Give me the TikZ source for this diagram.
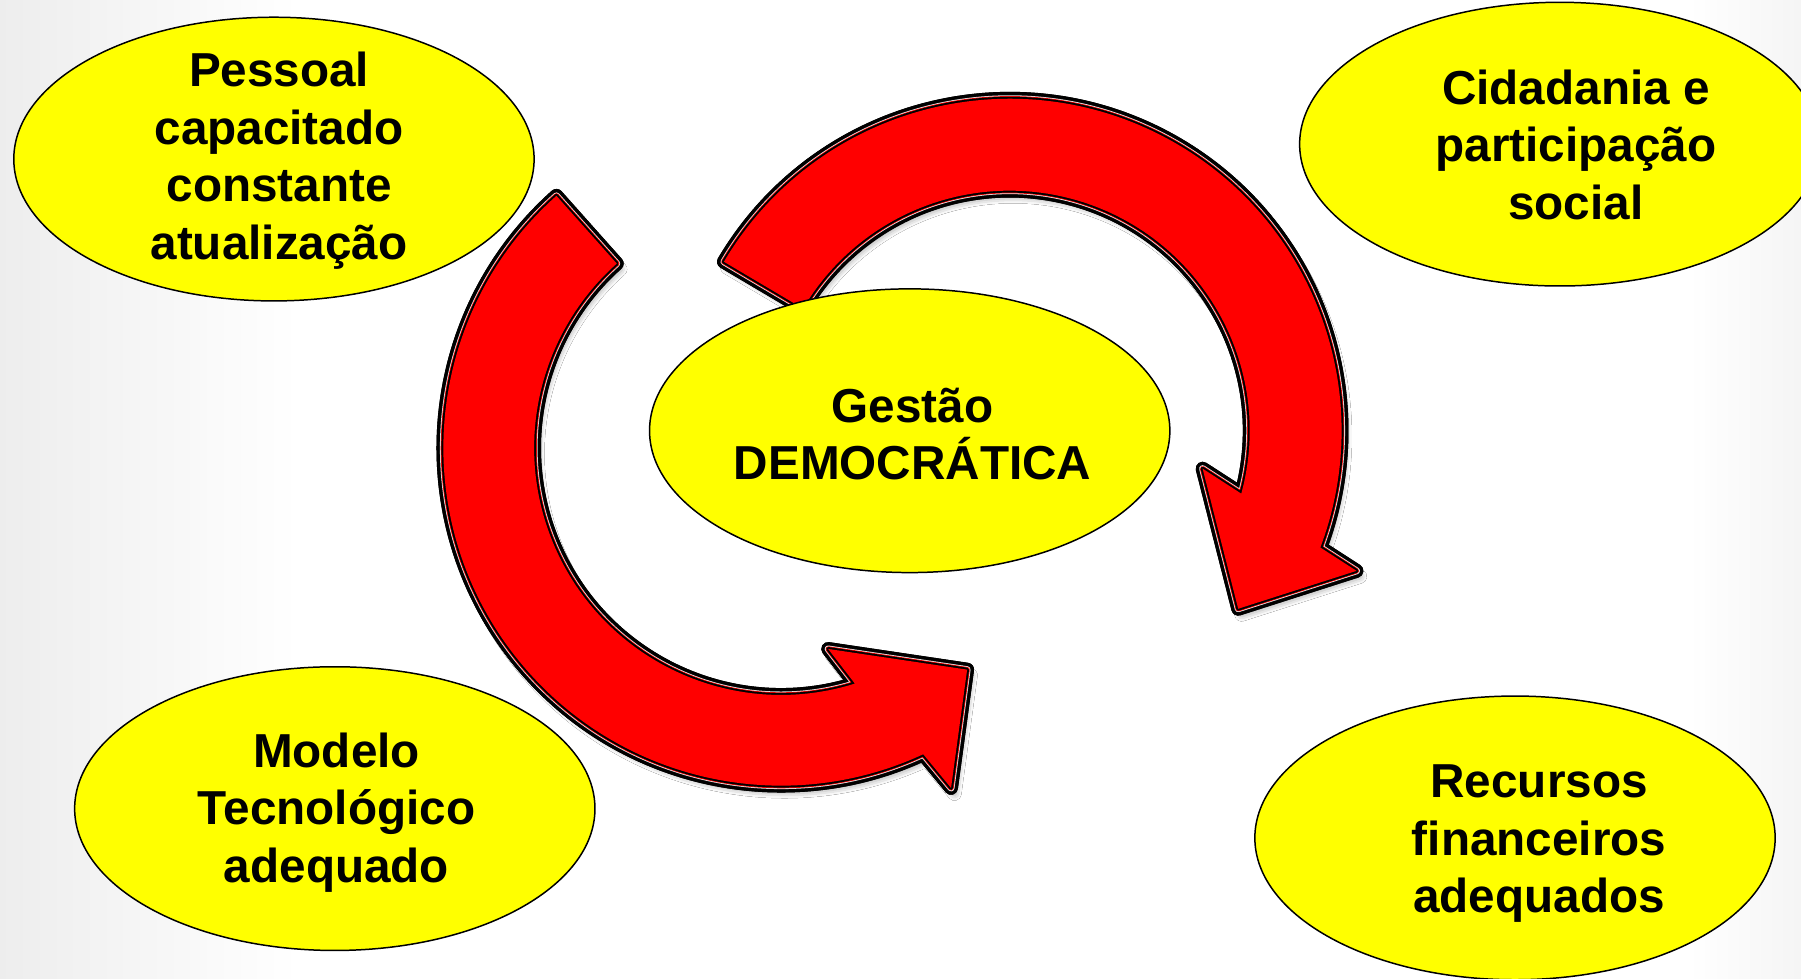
\documentclass[tikz,border=0pt]{standalone}
\usepackage{fontspec}
\setmainfont{Liberation Sans}
\usetikzlibrary{shapes.geometric,shadows.blur}
\definecolor{amarelo}{RGB}{255,255,0}
\definecolor{vermelho}{RGB}{255,0,0}

% contornos das duas setas
\newcommand{\setabaixo}{([shift={(131.7:294)}]giro1) arc[start angle=131.7, end angle=294.9, radius=294]
	-- (828,166) -- (842,269) -- (721,287) -- ([shift={(287.4:215)}]giro1)
	arc[start angle=287.4, end angle=131.7, radius=215] -- cycle}
\newcommand{\setacima}{([shift={(149.4:289)}]giro2) arc[start angle=149.4, end angle=-20.6, radius=289]
	-- (1181,355) -- (1078,322) -- (1047,444) -- ([shift={(-15.2:209)}]giro2)
	arc[start angle=-15.2, end angle=149.4, radius=209] -- cycle}

\begin{document}
\begin{tikzpicture}[x=1pt, y=1pt,
		bolha/.style = {draw, ellipse, fill=amarelo, line width=1.3pt, minimum width=453pt, minimum height=247pt, inner sep=0pt},
		rotulo/.style = {align=center, font=\fontsize{41.5}{50}\selectfont\bfseries},
		sombra/.style = {fill=vermelho, draw=black, line width=12pt, line join=round,
			blur shadow={shadow xshift=3pt, shadow yshift=-5pt, shadow blur radius=6pt, shadow opacity=50}}]
		\useasboundingbox (0,0) rectangle (1568,852);
		\clip (0,0) rectangle (1568,852);
		% fundo
		\fill[white] (0,0) rectangle (1568,852);
		\shade[left color=black!7, right color=white] (0,0) rectangle (260,852);
		\shade[left color=white, right color=black!4] (1470,0) rectangle (1568,852);
		% centros das setas
		\coordinate (giro1) at (680,462);
		\coordinate (giro2) at (879,477);
		% setas: sombra, filetes e miolo vermelho
		\foreach \seta in {\setabaixo, \setacima} {
			\path[sombra] \seta;
			\foreach \lw/\cor in {12/black, 6/gray!20, 4.6/vermelho, 3.4/black}
				\draw[line width=\lw pt, \cor, line join=round] \seta;
			\fill[vermelho] \seta;
		}
		% bolhas
		\node[bolha] (pessoal) at (238.5,713.5) {};
		\node[bolha] (cidadania) at (1358,726.5) {};
		\node[bolha] (gestao) at (792,477) {};
		\node[bolha] (modelo) at (291.5,148) {};
		\node[bolha] (recursos) at (1319,122.5) {};
		\node[rotulo] (pessoal-txt) at ([shift={(4.5,-1.5)}]pessoal.center) {Pessoal\\capacitado\\constante\\atualização};
		\node[rotulo] (cidadania-txt) at ([shift={(14,-0.5)}]cidadania.center) {Cidadania e\\participação\\social};
		\node[rotulo] (gestao-txt) at ([shift={(2.5,-3)}]gestao.center) {Gestão\\DEMOCRÁTICA};
		\node[rotulo] (modelo-txt) at ([shift={(1.5,-3.5)}]modelo.center) {Modelo\\Tecnológico\\adequado};
		\node[rotulo] (recursos-txt) at ([shift={(21,-5)}]recursos.center) {Recursos\\financeiros\\adequados};
	\end{tikzpicture}
\end{document}
